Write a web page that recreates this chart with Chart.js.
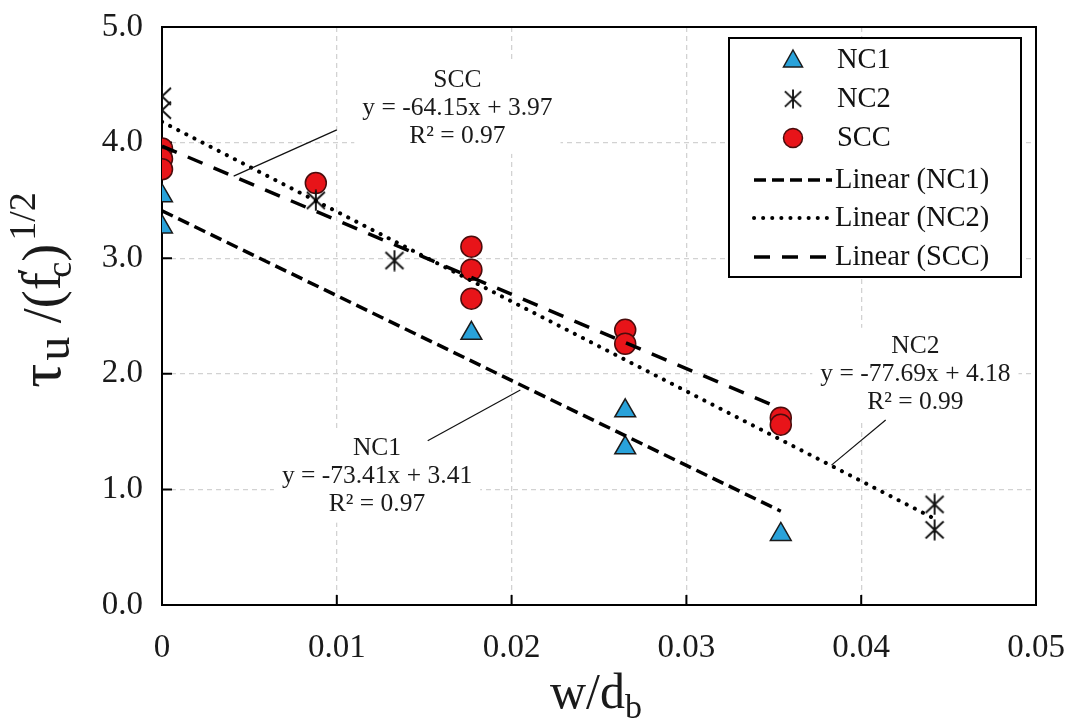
<!DOCTYPE html>
<html>
<head>
<meta charset="utf-8">
<script src="https://cdn.jsdelivr.net/npm/chart.js@4"></script>
<style>
  html, body { margin: 0; padding: 0; background: #fff; }
  #wrap { width: 1069px; height: 728px; }
</style>
</head>
<body>
<div id="wrap"><canvas id="myChart" width="1069" height="728"></canvas></div>
<script>
(() => {
    'use strict'

    const SERIF = '"Liberation Serif", "Times New Roman", serif'

    // test results: w/d_b against normalised bond strength
    const nc1X = [0, 0, 0.0177, 0.0265, 0.0265, 0.0354]
    const nc1Y = [3.54, 3.27, 2.35, 1.68, 1.36, 0.61]
    const nc2X = [0, 0, 0.0088, 0.0133, 0.0442, 0.0442]
    const nc2Y = [4.40, 4.28, 3.50, 2.98, 0.87, 0.65]
    const sccX = [0, 0, 0, 0.0088, 0.0177, 0.0177, 0.0177, 0.0265, 0.0265, 0.0354, 0.0354]
    const sccY = [3.95, 3.86, 3.77, 3.65, 3.10, 2.90, 2.65, 2.38, 2.26, 1.62, 1.56]

    // linear fits
    const fitNames = ['NC1', 'NC2', 'SCC']
    const fitSlope = [-73.41, -77.69, -64.15]
    const fitIntercept = [3.41, 4.18, 3.97]
    const fitR2 = [0.97, 0.99, 0.97]
    const fitXMax = [0.0354, 0.0442, 0.0354]

    const xTicks = [0, 0.01, 0.02, 0.03, 0.04, 0.05]
    const xTickLabels = ['0', '0.01', '0.02', '0.03', '0.04', '0.05']
    const yTicks = [0, 1, 2, 3, 4, 5]
    const yTickLabels = ['0.0', '1.0', '2.0', '3.0', '4.0', '5.0']

    // where each fit label sits (data units) and where its leader line runs
    const notes = [
        { fit: 0, x: 0.0123, y: 1.11, from: [0.0152, 1.42], to: [0.0205, 1.86] },
        { fit: 1, x: 0.0431, y: 2.00, from: [0.0414, 1.60], to: [0.0383, 1.21] },
        { fit: 2, x: 0.0169, y: 4.30, from: [0.0100, 4.11], to: [0.0041, 3.71] }
    ]

    const toPts = (xs, ys) => xs.map((x, i) => ({ x: x, y: ys[i] }))
    const fitLine = i => [
        { x: 0, y: fitIntercept[i] },
        { x: fitXMax[i], y: fitIntercept[i] + fitSlope[i] * fitXMax[i] }
    ]

    function asterisk(size) {
        const c = document.createElement('canvas')
        c.width = size
        c.height = size
        const g = c.getContext('2d')
        g.strokeStyle = '#111'
        g.lineWidth = 1.9
        g.beginPath()
        g.moveTo(size / 2, 0.5); g.lineTo(size / 2, size - 0.5)
        g.moveTo(2, 2.5); g.lineTo(size - 2, size - 2.5)
        g.moveTo(size - 2, 2.5); g.lineTo(2, size - 2.5)
        g.stroke()
        return c
    }
    const starImg = asterisk(22)

    const markerSets = [
        { label: 'NC1', data: toPts(nc1X, nc1Y), pointStyle: 'triangle', pointRadius: 12,
          backgroundColor: '#29a2da', borderColor: '#1b1b1b', borderWidth: 1.5, order: 2 },
        { label: 'NC2', data: toPts(nc2X, nc2Y), pointStyle: starImg, pointRadius: 11,
          backgroundColor: '#111', borderColor: '#111', borderWidth: 1, order: 2 },
        { label: 'SCC', data: toPts(sccX, sccY), pointStyle: 'circle', pointRadius: 10.5,
          backgroundColor: '#e81419', borderColor: '#4a0c0c', borderWidth: 1.5, order: 2 }
    ]
    const dashes = [[12, 6], [0.1, 9], [16, 12]]
    const caps = ['butt', 'round', 'butt']
    const lineSets = fitNames.map((n, i) => ({
        label: 'Linear (' + n + ')',
        data: fitLine(i),
        showLine: true,
        pointRadius: 0,
        borderColor: '#000',
        borderWidth: i === 1 ? 4 : 3.5,
        borderDash: dashes[i],
        borderCapStyle: caps[i],
        fill: false,
        order: 1
    }))

    // run of text with sub/superscripts, centred on x
    function richText(ctx, parts, x, y) {
        let total = 0
        parts.forEach(p => {
            ctx.font = p.size + 'px ' + SERIF
            p.w = ctx.measureText(p.t).width
            total += p.w + (p.dx || 0)
        })
        let cx = x - total / 2
        parts.forEach(p => {
            ctx.font = p.size + 'px ' + SERIF
            cx += p.dx || 0
            ctx.fillText(p.t, cx, y + (p.dy || 0))
            cx += p.w
        })
    }

    const framePlugin = {
        id: 'frame',
        beforeDatasetsDraw(chart) {
            const { ctx, chartArea: a, scales } = chart
            ctx.save()
            ctx.strokeStyle = '#000'
            ctx.lineWidth = 2
            ctx.beginPath()
            xTicks.forEach(v => {
                const px = scales.x.getPixelForValue(v)
                ctx.moveTo(px, a.bottom); ctx.lineTo(px, a.bottom - 10)
            })
            yTicks.forEach(v => {
                const py = scales.y.getPixelForValue(v)
                ctx.moveTo(a.left, py); ctx.lineTo(a.left + 10, py)
            })
            ctx.stroke()
            ctx.strokeRect(a.left, a.top, a.right - a.left, a.bottom - a.top)
            ctx.restore()
        }
    }

    const notesPlugin = {
        id: 'notes',
        afterDatasetsDraw(chart) {
            const { ctx, scales } = chart
            ctx.save()
            notes.forEach(n => {
                const i = n.fit
                const cx = scales.x.getPixelForValue(n.x)
                const cy = scales.y.getPixelForValue(n.y)
                const eq = 'y = ' + fitSlope[i].toFixed(2) + 'x + ' + fitIntercept[i].toFixed(2)
                const lines = [fitNames[i], eq, 'R² = ' + fitR2[i].toFixed(2)]
                ctx.font = '25.5px ' + SERIF
                const w = Math.max(...lines.map(t => ctx.measureText(t).width))
                ctx.fillStyle = '#fff'
                ctx.fillRect(cx - w / 2 - 8, cy - 46, w + 16, 92)
                ctx.fillStyle = '#1a1a1a'
                ctx.textAlign = 'center'
                ctx.textBaseline = 'middle'
                lines.forEach((t, k) => ctx.fillText(t, cx, cy + (k - 1) * 28))
                ctx.strokeStyle = '#111'
                ctx.lineWidth = 1.2
                ctx.beginPath()
                ctx.moveTo(scales.x.getPixelForValue(n.from[0]), scales.y.getPixelForValue(n.from[1]))
                ctx.lineTo(scales.x.getPixelForValue(n.to[0]), scales.y.getPixelForValue(n.to[1]))
                ctx.stroke()
            })
            ctx.restore()
        }
    }

    const legendPlugin = {
        id: 'boxLegend',
        afterDraw(chart) {
            const ctx = chart.ctx
            const box = { x: 729, y: 38, w: 292, h: 239 }
            ctx.save()
            ctx.fillStyle = '#fff'
            ctx.fillRect(box.x, box.y, box.w, box.h)
            ctx.strokeStyle = '#000'
            ctx.lineWidth = 2
            ctx.strokeRect(box.x, box.y, box.w, box.h)
            ctx.font = '28.5px ' + SERIF
            ctx.textBaseline = 'middle'
            ctx.textAlign = 'left'
            const rowY = [60, 99, 138, 180, 218, 257]
            const sx = 793
            markerSets.forEach((d, k) => {
                const y = rowY[k]
                ctx.fillStyle = d.backgroundColor
                ctx.strokeStyle = d.borderColor
                ctx.lineWidth = d.borderWidth
                if (d.pointStyle === starImg) {
                    ctx.drawImage(starImg, sx - 10, y - 10, 20, 20)
                } else {
                    ctx.beginPath()
                    if (d.pointStyle === 'circle') {
                        ctx.arc(sx, y, 9.5, 0, Math.PI * 2)
                    } else {
                        ctx.moveTo(sx, y - 10)
                        ctx.lineTo(sx + 9.5, y + 7)
                        ctx.lineTo(sx - 9.5, y + 7)
                        ctx.closePath()
                    }
                    ctx.fill()
                    ctx.stroke()
                }
                ctx.fillStyle = '#111'
                ctx.fillText(d.label, 837, y + 1)
            })
            lineSets.forEach((d, k) => {
                const y = rowY[k + 3]
                ctx.strokeStyle = '#000'
                ctx.lineWidth = d.borderWidth
                ctx.lineCap = d.borderCapStyle
                ctx.setLineDash(d.borderDash)
                ctx.beginPath()
                ctx.moveTo(754, y)
                ctx.lineTo(832, y)
                ctx.stroke()
                ctx.setLineDash([])
                ctx.lineCap = 'butt'
                ctx.fillStyle = '#111'
                ctx.fillText(d.label, 835, y + 1)
            })
            ctx.restore()
        }
    }

    const titlesPlugin = {
        id: 'axisTitles',
        afterDraw(chart) {
            const ctx = chart.ctx
            ctx.save()
            ctx.fillStyle = '#1a1a1a'
            ctx.textAlign = 'left'
            ctx.textBaseline = 'alphabetic'
            richText(ctx, [
                { t: 'w/d', size: 50 },
                { t: 'b', size: 34, dy: 10 }
            ], 596, 708)
            ctx.translate(60, 290)
            ctx.rotate(-Math.PI / 2)
            richText(ctx, [
                { t: 'τ', size: 60 },
                { t: 'u', size: 48, dy: 9, dx: 3 },
                { t: ' /(f', size: 54 },
                { t: '′', size: 34, dy: -20, dx: -3 },
                { t: 'c', size: 36, dy: 11, dx: -10 },
                { t: ')', size: 54 },
                { t: '1/2', size: 38, dy: -25, dx: 3 }
            ], 0, 0)
            ctx.restore()
        }
    }

    const ctx = document.getElementById('myChart')
    new Chart(ctx, {
        type: 'scatter',
        data: { datasets: markerSets.concat(lineSets) },
        options: {
            responsive: false,
            animation: false,
            layout: { padding: { top: 27, right: 33, left: 0, bottom: 0 } },
            plugins: {
                legend: { display: false },
                tooltip: { enabled: false }
            },
            scales: {
                x: {
                    type: 'linear',
                    min: 0,
                    max: 0.05,
                    afterBuildTicks: s => { s.ticks = xTicks.map(v => ({ value: v })) },
                    afterFit: s => {
                        s.height = 123
                        s.paddingLeft = 0
                        s.paddingRight = 0
                    },
                    grid: { color: '#d2d2d2', lineWidth: 1.3, drawTicks: false },
                    border: { display: false, dash: [5, 4] },
                    ticks: {
                        padding: 24,
                        color: '#1a1a1a',
                        font: { family: SERIF, size: 33 },
                        callback: (v, i) => xTickLabels[i]
                    }
                },
                y: {
                    type: 'linear',
                    min: 0,
                    max: 5,
                    afterBuildTicks: s => { s.ticks = yTicks.map(v => ({ value: v })) },
                    afterFit: s => {
                        s.width = 162
                        s.paddingTop = 0
                        s.paddingBottom = 0
                    },
                    grid: { color: '#d2d2d2', lineWidth: 1.3, drawTicks: false },
                    border: { display: false, dash: [5, 4] },
                    ticks: {
                        padding: 19,
                        color: '#1a1a1a',
                        font: { family: SERIF, size: 33 },
                        callback: (v, i) => yTickLabels[i]
                    }
                }
            }
        },
        plugins: [framePlugin, notesPlugin, legendPlugin, titlesPlugin]
    })
})()
</script>
</body>
</html>
